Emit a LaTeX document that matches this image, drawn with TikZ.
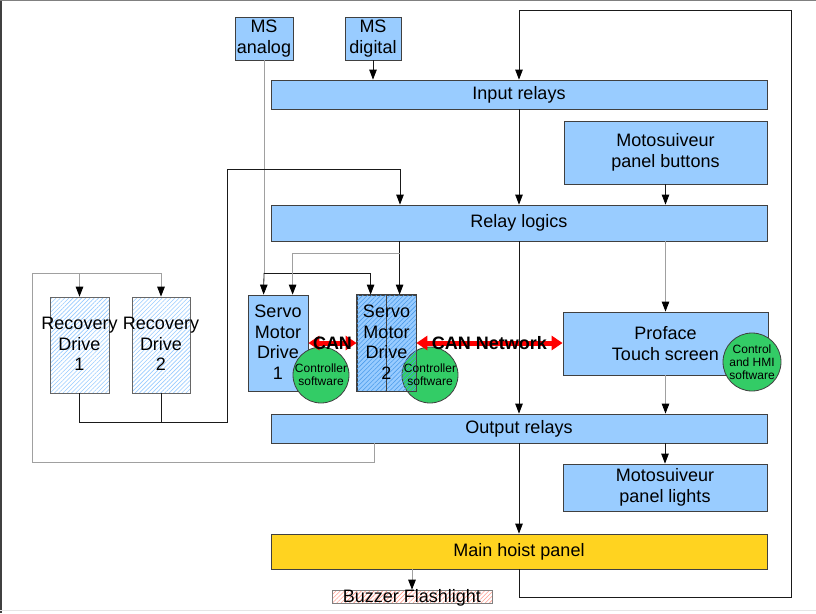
\documentclass[tikz,border=0pt]{standalone}
\usepackage{fontspec}
\setmainfont{Liberation Sans}
\usetikzlibrary{arrows.meta,patterns.meta}

\definecolor{boxblue}{HTML}{99CCFF}
\definecolor{hatchblue}{HTML}{4A9BEA}
\definecolor{edgegray}{HTML}{404040}
\definecolor{softgreen}{HTML}{33CC66}
\definecolor{hoistgold}{HTML}{FFD320}
\definecolor{salmonline}{HTML}{FF9F90}
\definecolor{lightwire}{HTML}{A0A0A0}
\definecolor{darkwire}{HTML}{1A1A1A}

\begin{document}
\begin{tikzpicture}[x=1pt,y=-1pt,
  font=\fontsize{18}{20.5}\selectfont,
  blk/.style={draw=edgegray, line width=0.8pt, fill=boxblue, inner sep=0pt, align=center},
  hatchbox/.style={draw=edgegray!80, line width=0.7pt, inner sep=0pt,
    pattern={Lines[angle=45,distance=3pt,line width=0.6pt]}, pattern color=boxblue},
  goldbox/.style={blk, fill=hoistgold},
  buzzbox/.style={draw=gray, line width=0.6pt, inner sep=0pt,
    pattern={Lines[angle=45,distance=3pt,line width=0.6pt]}, pattern color=salmonline},
  soft/.style={circle, draw=edgegray, line width=0.8pt, fill=softgreen, inner sep=0pt},
  smalltxt/.style={font=\fontsize{12}{13}\selectfont, align=center, inner sep=0pt},
  bigtxt/.style={align=center, inner sep=0pt},
  wire/.style={draw=darkwire, line width=0.8pt},
  softwire/.style={draw=lightwire, line width=1pt},
  tip/.style={-{Triangle[length=10pt,width=7.5pt,color=black]}},
  canarrow/.style={draw=red, line width=5pt,
    {Triangle[length=11pt,width=14pt]}-{Triangle[length=11pt,width=14pt]}},
  canlabel/.style={font=\bfseries\fontsize{18}{20.5}\selectfont, inner sep=0pt, text=black}
]
\useasboundingbox (0,0) rectangle (816,613);
\fill[white] (0,0) rectangle (816,613);
% window edges
\fill[edgegray] (0,0) rectangle (1.6,613);
\fill[gray] (0,0) rectangle (816,1.2);
\fill[gray!20] (0,610) rectangle (816,611.2);

% ---- blocks ----
\node[blk, minimum width=58pt, minimum height=43pt] (msa) at (264,38.5) {MS\\analog};
\node[blk, minimum width=56pt, minimum height=43pt] (msd) at (373,38.5) {MS\\digital};
\node[blk, minimum width=496pt, minimum height=29pt] (inrel) at (519,94.5) {Input relays};
\node[blk, minimum width=203pt, minimum height=63pt] (mpb) at (665.5,152.5) {Motosuiveur\\panel buttons};
\node[blk, minimum width=496pt, minimum height=36pt] (rlog) at (519,223) {Relay logics};

\node[hatchbox, minimum width=59pt, minimum height=96pt] (rd1) at (79.5,345) {};
\node[hatchbox, minimum width=58pt, minimum height=96pt] (rd2) at (161,345) {};

\node[blk, minimum width=60pt, minimum height=96pt] (smd1) at (278,343) {};
\node[blk, minimum width=59pt, minimum height=96pt] (smd2) at (386.5,343) {};

\node[blk, minimum width=205pt, minimum height=63pt] (prof) at (665.5,343.5) {Proface\\Touch screen};
\node[blk, minimum width=496pt, minimum height=29pt] (outrel) at (519,428.5) {Output relays};
\node[blk, minimum width=204pt, minimum height=47pt] (mpl) at (665,487.5) {Motosuiveur\\panel lights};
\node[goldbox, minimum width=496pt, minimum height=35pt] (mhp) at (519,551.5) {Main hoist panel};
\node[buzzbox, minimum width=160pt, text height=12pt, text depth=1pt] (buzz) at (412,596.5) {Buzzer Flashlight};

% ---- software circles ----
\node[soft, minimum size=56pt] (cs1) at (321,375) {};
\node[soft, minimum size=56pt] (cs2) at (430,375) {};
\node[soft, minimum size=58pt] (hmi) at (752,362) {};

% hatching of the second drive lies over its circle
\fill[pattern={Lines[angle=45,distance=3.2pt,line width=0.55pt]}, pattern color=hatchblue]
  (smd2.north west) rectangle (smd2.south east);
\draw[edgegray, line width=0.8pt] (smd2.north west) rectangle (smd2.south east);
\draw[edgegray, line width=0.8pt] (smd2.north) -- (smd2.south);

% ---- CAN links ----
\draw[canarrow] (smd1.east) -- (smd2.west);
\draw[canarrow] (smd2.east) -- (prof.west |- smd2.east);

% ---- routing points ----
\coordinate (loopTR) at (791,10);
\coordinate (loopBR) at (791,597);
\coordinate (rdjoin) at (227,422);
\coordinate (rdtop) at (400,169);
\coordinate (orx) at (374,462);
\coordinate (rdleft) at (32,273);
\coordinate (msj) at (264,273);
\coordinate (rlbranch) at (400,253);
\coordinate (s1a) at ([xshift=16pt]smd1.north west);
\coordinate (s1b) at ([xshift=45pt]smd1.north west);
\coordinate (s2a) at ([xshift=14pt]smd2.north west);
\coordinate (s2b) at ([xshift=43pt]smd2.north west);

% ---- connectors ----
\draw[wire,tip] (msd.south) -- (msd.south |- inrel.north);
\draw[wire,tip] (mhp.south) |- (loopBR) -- (loopTR) -| (inrel.north);
\draw[wire,tip] (inrel.south) -- (rlog.north);
\draw[wire,tip] (mpb.south) -- (mpb.south |- rlog.north);
\draw[wire,tip] (rlog.south) -- (outrel.north);
\draw[softwire,tip] (prof.north |- rlog.south) -- (prof.north);
\draw[softwire,tip] (prof.south) -- (prof.south |- outrel.north);
\draw[wire,tip] (mpl.north |- outrel.south) -- (mpl.north);
\draw[wire,tip] (outrel.south) -- (mhp.north);
\draw[softwire,tip] (buzz.north |- mhp.south) -- (buzz.north);

% analog sensor to both drives
\draw[softwire] (msa.south) -- (msj);
\draw[wire,tip] (msj) -- (s1a);
\draw[wire,tip] (msj) -| (s2a);

% relay logics to both drives
\draw[wire,tip] (s2b |- rlog.south) -- (s2b);
\draw[softwire,tip] (rlbranch) -| (s1b);

% recovery drives back to relay logics
\draw[wire,tip] (rd1.south) |- (rdjoin) |- (rdtop) -- (rdtop |- rlog.north);
\draw[wire] (rd2.south) -- (rd2.south |- rdjoin);

% output relays to recovery drives
\draw[softwire,tip] (outrel.south -| orx) -- (orx) -| (rdleft) -- (rd2.north |- rdleft) -- (rd2.north);
\draw[softwire,tip] (rd1.north |- rdleft) -- (rd1.north);

% ---- texts ----
\node[bigtxt] (rd1t) at (79.5,344) {Recovery\\Drive\\1};
\node[bigtxt] (rd2t) at (161,344) {Recovery\\Drive\\2};
\node[bigtxt] (smd1t) at (278,342) {Servo\\Motor\\Drive\\1};
\node[bigtxt] (smd2t) at (386.5,342) {Servo\\Motor\\Drive\\2};
\node[smalltxt] (cs1t) at (cs1) {Controller\\software};
\node[smalltxt] (cs2t) at (cs2) {Controller\\software};
\node[smalltxt] (hmit) at (hmi) {Control\\and HMI\\software};
\path (smd1.east) -- node[canlabel] (canA) {CAN} (smd2.west);
\path (smd2.east) -- node[canlabel] (canB) {CAN Network} (prof.west |- smd2.east);
\end{tikzpicture}
\end{document}
